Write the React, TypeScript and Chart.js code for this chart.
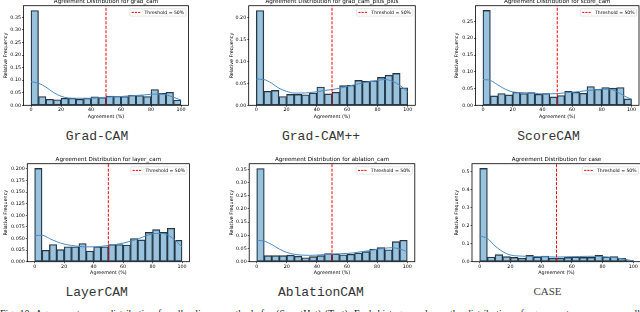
import React, { useEffect, useRef } from 'react';
import { Chart, registerables } from 'chart.js';

Chart.register(...registerables);

// ---------------- data ----------------
const BIN_WIDTH = 5;
const BIN_STARTS = [0, 5, 10, 15, 20, 25, 30, 35, 40, 45, 50, 55, 60, 65, 70, 75, 80, 85, 90, 95];
const KDE_X = [0, 5, 10, 15, 20, 25, 30, 35, 40, 45, 50, 55, 60, 65, 70, 75, 80, 85, 90, 95, 100];
const X_TICKS = [0, 20, 40, 60, 80, 100];
const X_MIN = -5;
const X_MAX = 105;
const THRESHOLD = 50;
const LEGEND_TEXT = 'Threshold = 50%';
const X_LABEL = 'Agreement (%)';
const Y_LABEL = 'Relative Frequency';
const TITLE_PREFIX = 'Agreement Distribution for ';

const METHOD_KEYS = ['grad_cam', 'grad_cam_plus_plus', 'score_cam', 'layer_cam', 'ablation_cam', 'case'];
const METHOD_NAMES = ['Grad-CAM', 'Grad-CAM++', 'ScoreCAM', 'LayerCAM', 'AblationCAM', 'CASE'];

const GRAD_CAM_FREQ = [0.377, 0.035, 0.024, 0.022, 0.028, 0.028, 0.024, 0.028, 0.034, 0.031, 0.037, 0.036, 0.035, 0.040, 0.039, 0.035, 0.063, 0.048, 0.052, 0.021];
const GRAD_CAM_KDE = [0.094, 0.088, 0.072, 0.051, 0.036, 0.029, 0.028, 0.028, 0.028, 0.030, 0.032, 0.034, 0.035, 0.037, 0.039, 0.041, 0.044, 0.045, 0.042, 0.032, 0.021];
const GRAD_CAM_Y_TICKS = [0, 0.05, 0.1, 0.15, 0.2, 0.25, 0.3, 0.35];

const GRAD_CAM_PP_FREQ = [0.217, 0.032, 0.034, 0.020, 0.025, 0.025, 0.024, 0.028, 0.042, 0.026, 0.030, 0.045, 0.046, 0.057, 0.055, 0.056, 0.064, 0.069, 0.073, 0.040];
const GRAD_CAM_PP_KDE = [0.060, 0.059, 0.051, 0.039, 0.032, 0.028, 0.028, 0.029, 0.031, 0.034, 0.036, 0.039, 0.043, 0.047, 0.051, 0.054, 0.057, 0.059, 0.055, 0.045, 0.031];
const GRAD_CAM_PP_Y_TICKS = [0, 0.05, 0.1, 0.15, 0.2];

const SCORE_CAM_FREQ = [0.283, 0.028, 0.035, 0.031, 0.039, 0.035, 0.038, 0.033, 0.035, 0.025, 0.029, 0.042, 0.039, 0.036, 0.056, 0.048, 0.053, 0.051, 0.053, 0.019];
const SCORE_CAM_KDE = [0.077, 0.074, 0.061, 0.048, 0.040, 0.038, 0.037, 0.036, 0.034, 0.034, 0.035, 0.037, 0.039, 0.041, 0.044, 0.046, 0.048, 0.048, 0.041, 0.028, 0.018];
const SCORE_CAM_Y_TICKS = [0, 0.05, 0.1, 0.15, 0.2, 0.25];

const LAYER_CAM_FREQ = [0.201, 0.0245, 0.037, 0.026, 0.032, 0.032, 0.039, 0.023, 0.032, 0.032, 0.037, 0.037, 0.036, 0.050, 0.047, 0.063, 0.069, 0.063, 0.072, 0.046];
const LAYER_CAM_KDE = [0.056, 0.057, 0.050, 0.043, 0.038, 0.035, 0.033, 0.032, 0.032, 0.033, 0.035, 0.037, 0.040, 0.044, 0.049, 0.055, 0.060, 0.061, 0.058, 0.047, 0.032];
const LAYER_CAM_Y_TICKS = [0, 0.025, 0.05, 0.075, 0.1, 0.125, 0.15, 0.175, 0.2];

const ABLATION_CAM_FREQ = [0.353, 0.023, 0.023, 0.023, 0.025, 0.021, 0.015, 0.019, 0.023, 0.031, 0.029, 0.026, 0.028, 0.033, 0.038, 0.048, 0.053, 0.045, 0.076, 0.081];
const ABLATION_CAM_KDE = [0.081, 0.078, 0.065, 0.048, 0.035, 0.028, 0.025, 0.024, 0.025, 0.027, 0.029, 0.030, 0.031, 0.034, 0.038, 0.042, 0.047, 0.051, 0.053, 0.048, 0.038];
const ABLATION_CAM_Y_TICKS = [0, 0.05, 0.1, 0.15, 0.2, 0.25, 0.3, 0.35];

const CASE_FREQ = [0.520, 0.026, 0.039, 0.028, 0.024, 0.020, 0.035, 0.026, 0.032, 0.020, 0.020, 0.024, 0.026, 0.024, 0.024, 0.035, 0.026, 0.028, 0.019, 0.007];
const CASE_KDE = [0.143, 0.130, 0.087, 0.056, 0.037, 0.032, 0.030, 0.029, 0.028, 0.027, 0.026, 0.027, 0.028, 0.029, 0.030, 0.030, 0.028, 0.025, 0.020, 0.013, 0.004];
const CASE_Y_TICKS = [0, 0.1, 0.2, 0.3, 0.4, 0.5];

const FREQS = [GRAD_CAM_FREQ, GRAD_CAM_PP_FREQ, SCORE_CAM_FREQ, LAYER_CAM_FREQ, ABLATION_CAM_FREQ, CASE_FREQ];
const KDES = [GRAD_CAM_KDE, GRAD_CAM_PP_KDE, SCORE_CAM_KDE, LAYER_CAM_KDE, ABLATION_CAM_KDE, CASE_KDE];
const Y_TICKS = [GRAD_CAM_Y_TICKS, GRAD_CAM_PP_Y_TICKS, SCORE_CAM_Y_TICKS, LAYER_CAM_Y_TICKS, ABLATION_CAM_Y_TICKS, CASE_Y_TICKS];
const Y_DECIMALS = [2, 2, 2, 3, 2, 1];
const Y_MAX = [0.396, 0.228, 0.297, 0.211, 0.371, 0.546];

const CAPTION_TEXT =
  'Fig. 10: Agreement score distribution for all saliency methods for (SmartHat) (Test). Each histogram shows the distribution of agreement scores across all images, with the dashed line marking the 50% threshold used for each method in our evaluation.';

// ---------------- layout (positions / sizes) ----------------
const LAYOUT = [
  { left: 3, top: -2, width: 188, height: 122, yw: 20.5, xh: 14.7, padR: 2.5 },
  { left: 229, top: -2, width: 189, height: 122, yw: 19.7, xh: 14.7, padR: 2.7 },
  { left: 454, top: -2, width: 188, height: 122, yw: 21.5, xh: 14.7, padR: 3 },
  { left: 3, top: 156, width: 189, height: 120, yw: 24.3, xh: 14.3, padR: 2.6 },
  { left: 229, top: 156, width: 188, height: 120, yw: 20.2, xh: 14.3, padR: 2.2 },
  { left: 454, top: 156, width: 190, height: 120, yw: 18, xh: 14.3, padR: 3 },
];
const CAPTION_POS = [
  { cx: 97, top: 128.5, serif: false },
  { cx: 321, top: 128.5, serif: false },
  { cx: 548.5, top: 128.5, serif: false },
  { cx: 96.7, top: 284.5, serif: false },
  { cx: 320.8, top: 284.5, serif: false },
  { cx: 547.5, top: 283.2, serif: true },
];

const FONT = '"DejaVu Sans", sans-serif';
const BAR_FILL = 'rgba(31,119,180,0.45)';
const BAR_EDGE = '#2b2b2b';
const KDE_COLOR = '#4a8ac4';

const framePlugin = {
  id: 'frameAndLegend',
  afterDatasetsDraw(chart: any) {
    const { ctx, chartArea } = chart;
    ctx.save();
    ctx.strokeStyle = '#000';
    ctx.lineWidth = 0.8;
    ctx.strokeRect(chartArea.left, chartArea.top, chartArea.right - chartArea.left, chartArea.bottom - chartArea.top);

    const fs = 4.6;
    ctx.font = `${fs}px ${FONT}`;
    const tw = ctx.measureText(LEGEND_TEXT).width;
    const padX = 0.4 * fs;
    const handle = 2 * fs;
    const gap = 0.8 * fs;
    const w = padX + handle + gap + tw + padX;
    const h = fs * 1.6;
    const x = chartArea.right - 2.5 - w;
    const y = chartArea.top + 3;
    const r = 1;
    ctx.beginPath();
    ctx.moveTo(x + r, y);
    ctx.lineTo(x + w - r, y);
    ctx.quadraticCurveTo(x + w, y, x + w, y + r);
    ctx.lineTo(x + w, y + h - r);
    ctx.quadraticCurveTo(x + w, y + h, x + w - r, y + h);
    ctx.lineTo(x + r, y + h);
    ctx.quadraticCurveTo(x, y + h, x, y + h - r);
    ctx.lineTo(x, y + r);
    ctx.quadraticCurveTo(x, y, x + r, y);
    ctx.closePath();
    ctx.fillStyle = 'rgba(255,255,255,0.85)';
    ctx.fill();
    ctx.strokeStyle = '#cccccc';
    ctx.lineWidth = 0.5;
    ctx.stroke();
    const ym = y + h / 2;
    ctx.beginPath();
    ctx.setLineDash([2.2, 1]);
    ctx.strokeStyle = '#ff0000';
    ctx.lineWidth = 1;
    ctx.moveTo(x + padX, ym);
    ctx.lineTo(x + padX + handle, ym);
    ctx.stroke();
    ctx.setLineDash([]);
    ctx.fillStyle = '#000';
    ctx.textBaseline = 'middle';
    ctx.textAlign = 'left';
    ctx.fillText(LEGEND_TEXT, x + padX + handle + gap, ym + 0.2);
    ctx.restore();
  },
};

function Panel({ index }: { index: number }) {
  const ref = useRef<HTMLCanvasElement>(null);
  const lay = LAYOUT[index];
  useEffect(() => {
    if (!ref.current) return;
    const freq = FREQS[index];
    const kde = KDES[index];
    const yTicks = Y_TICKS[index];
    const dec = Y_DECIMALS[index];
    const ymax = Y_MAX[index];
    const chart = new Chart(ref.current, {
      type: 'bar',
      data: {
        datasets: [
          {
            type: 'line',
            data: [
              { x: THRESHOLD, y: 0 },
              { x: THRESHOLD, y: ymax },
            ],
            borderColor: '#ff0000',
            borderWidth: 1,
            borderDash: [3, 1.5],
            pointRadius: 0,
            order: 1,
          } as any,
          {
            type: 'line',
            data: KDE_X.map((x, i) => ({ x, y: kde[i] })),
            borderColor: KDE_COLOR,
            borderWidth: 1,
            pointRadius: 0,
            cubicInterpolationMode: 'monotone',
            order: 2,
          } as any,
          {
            type: 'bar',
            data: BIN_STARTS.map((s, i) => ({ x: s + BIN_WIDTH / 2, y: freq[i] })),
            backgroundColor: BAR_FILL,
            borderColor: BAR_EDGE,
            borderWidth: 0.7,
            borderSkipped: false,
            barPercentage: 1,
            categoryPercentage: 1,
            order: 3,
          } as any,
        ],
      },
      options: {
        animation: false,
        responsive: false,
        events: [],
        layout: { padding: { left: 0, top: 0, bottom: 0, right: lay.padR } },
        plugins: {
          legend: { display: false },
          tooltip: { enabled: false },
          title: {
            display: true,
            text: TITLE_PREFIX + METHOD_KEYS[index],
            color: '#000',
            font: { family: FONT, size: 5.6, weight: 'normal' },
            padding: { top: 0, bottom: 1 },
            fullSize: false,
          },
        },
        scales: {
          x: {
            type: 'linear',
            bounds: 'data',
            offset: false,
            min: X_MIN,
            max: X_MAX,
            afterBuildTicks: (s: any) => {
              s.ticks = X_TICKS.map((v) => ({ value: v }));
            },
            afterFit: (s: any) => {
              s.height = lay.xh;
            },
            grid: { display: true, offset: false, drawOnChartArea: false, drawTicks: true, tickLength: 1.5, color: '#000', lineWidth: 0.6 },
            border: { display: false },
            ticks: { padding: 0.5, color: '#000', font: { family: FONT, size: 4.8 }, maxRotation: 0, autoSkip: false, callback: (v: any) => String(v) },
            title: { display: true, text: X_LABEL, color: '#000', font: { family: FONT, size: 4.8 }, padding: 0 },
          },
          y: {
            type: 'linear',
            bounds: 'data',
            min: 0,
            max: ymax,
            afterBuildTicks: (s: any) => {
              s.ticks = yTicks.map((v) => ({ value: v }));
            },
            afterFit: (s: any) => {
              s.width = lay.yw;
            },
            grid: { display: true, drawOnChartArea: false, drawTicks: true, tickLength: 1.5, color: '#000', lineWidth: 0.6 },
            border: { display: false },
            ticks: { padding: 1, color: '#000', font: { family: FONT, size: 4.8 }, autoSkip: false, callback: (v: any) => Number(v).toFixed(dec) },
            title: { display: true, text: Y_LABEL, color: '#000', font: { family: FONT, size: 4.8 }, padding: 0 },
          },
        },
      } as any,
      plugins: [framePlugin],
    });
    return () => chart.destroy();
  }, [index]);
  return (
    <canvas
      ref={ref}
      width={lay.width}
      height={lay.height}
      style={{ position: 'absolute', left: lay.left, top: lay.top, width: lay.width, height: lay.height }}
    />
  );
}

export default function App() {
  return (
    <div
      style={{
        position: 'fixed',
        left: 0,
        top: 0,
        width: 640,
        height: 312,
        overflow: 'hidden',
        background: '#fff',
      }}
    >
      {METHOD_KEYS.map((k, i) => (
        <Panel key={k} index={i} />
      ))}
      {METHOD_NAMES.map((name, i) => {
        const p = CAPTION_POS[i];
        return (
          <div
            key={name}
            style={{
              position: 'absolute',
              left: p.cx - 80,
              width: 160,
              top: p.top,
              textAlign: 'center',
              fontFamily: p.serif ? '"Liberation Serif", serif' : '"Liberation Mono", monospace',
              fontSize: p.serif ? 11 : 13,
              lineHeight: '16px',
              color: p.serif ? '#444' : '#333',
              whiteSpace: 'nowrap',
            }}
          >
            {name}
          </div>
        );
      })}
      <div
        style={{
          position: 'absolute',
          left: 0,
          top: 307.5,
          width: 640,
          fontFamily: '"Liberation Serif", serif',
          fontSize: 10,
          lineHeight: '12px',
          color: '#222',
          textAlign: 'justify',
        }}
      >
        {CAPTION_TEXT}
      </div>
    </div>
  );
}
